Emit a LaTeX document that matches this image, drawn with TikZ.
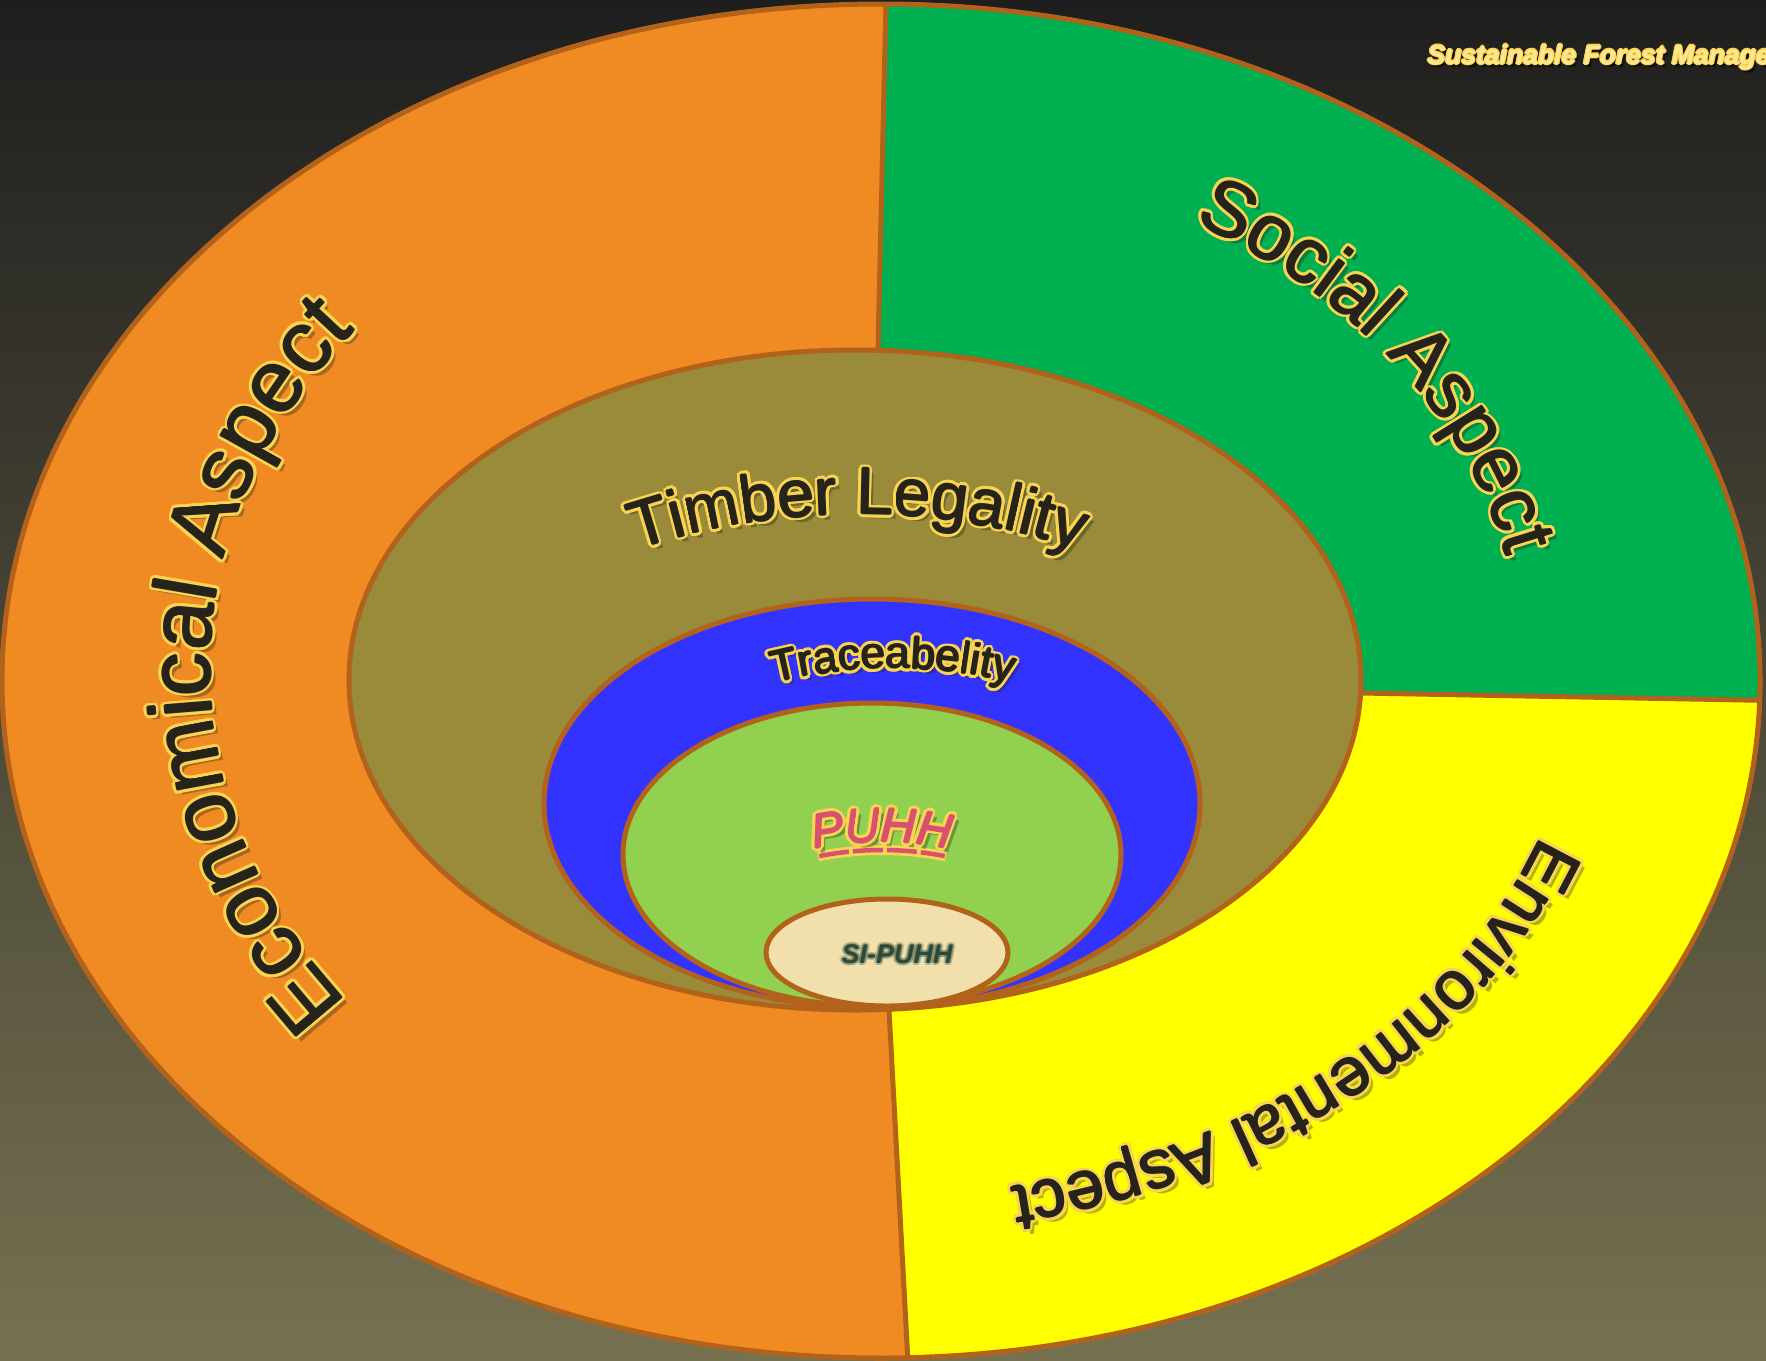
\documentclass[tikz,border=0pt]{standalone}
\usepackage{fontspec}
\setmainfont{Liberation Sans}
\usetikzlibrary{decorations.text}
\definecolor{bgtop}{HTML}{1E1E1E}
\definecolor{bgbot}{HTML}{767150}
\definecolor{orangeF}{HTML}{EF8B22}
\definecolor{greenF}{HTML}{00AF50}
\definecolor{yellowF}{HTML}{FFFF00}
\definecolor{timberF}{HTML}{9A8B3B}
\definecolor{blueF}{HTML}{3333FF}
\definecolor{lgreenF}{HTML}{92D050}
\definecolor{beigeF}{HTML}{F1E0AC}
\definecolor{bord}{HTML}{B2621A}
\definecolor{outl}{HTML}{F9D453}
\definecolor{txtc}{HTML}{26241A}
\definecolor{pinkF}{HTML}{D6526F}
\definecolor{siF}{HTML}{2C4A3A}
\definecolor{sfmF}{HTML}{FFD54F}
\definecolor{shadowc}{HTML}{202020}

% #1 path, #2 font, #3 fill colour, #4 text
\newcommand\arclabel[4]{%
  \begin{scope}[opacity=0.35]
    \path[decorate,decoration={text along path,text align=center,
      text={|#2\color{shadowc}|#4}},shift={(5,-5)}] #1;
  \end{scope}
  \foreach \ang in {0,24,...,336}{%
    \path[decorate,decoration={text along path,text align=center,
      text={|#2\color{outl}|#4}},shift={(\ang:3.6)}] #1;}
  \foreach \ang in {0,90,180,270}{%
    \path[decorate,decoration={text along path,text align=center,
      text={|#2\color{#3}|#4}},shift={(\ang:0.9)}] #1;}
  \path[decorate,decoration={text along path,text align=center,
    text={|#2\color{#3}|#4}}] #1;
}

\tikzset{
  bordline/.style={draw=bord,line width=5pt},
  ringpart/.style={draw=bord,line width=5pt},
  titlefont/.style={font=\bfseries\itshape\fontsize{26.5}{30}\selectfont},
}

\begin{document}
\begin{tikzpicture}[x=1pt,y=1pt]
\useasboundingbox (0,0) rectangle (1766,-1360);
\shade[top color=bgtop,bottom color=bgbot] (0,0) rectangle (1766,-1360);

% outer ring
\coordinate (O) at (881,-681);
\coordinate (t1) at (878,-350);
\coordinate (t2) at (886.5,20);
\coordinate (r1) at (1361,-693);
\coordinate (r2) at (1800,-701);
\coordinate (b1) at (889,-1010);
\coordinate (b2) at (910,-1400);
\fill[orangeF] (O) ellipse[x radius=881,y radius=679];
\begin{scope}
  \clip (O) ellipse[x radius=881,y radius=679];
  \fill[greenF] (t1) -- (t2) -- (1800,20) -- (r2) -- (r1) -- (878,-693) -- cycle;
  \fill[yellowF] (r1) -- (r2) -- (1800,-1400) -- (b2) -- (b1) -- (878,-693) -- cycle;
  \draw[bordline] (t1) -- (t2);
  \draw[bordline] (r1) -- (r2);
  \draw[bordline] (b1) -- (b2);
\end{scope}
\draw[ringpart] (O) ellipse[x radius=879,y radius=677];

% inner ellipses
\coordinate (cT) at (855,-680);
\coordinate (cB) at (872,-803.5);
\coordinate (cG) at (872,-854.5);
\coordinate (cS) at (887,-952.5);
\filldraw[ringpart,fill=timberF] (cT) ellipse[x radius=506,y radius=330];
\filldraw[ringpart,fill=blueF] (cB) ellipse[x radius=328,y radius=204.5];
\filldraw[ringpart,fill=lgreenF] (cG) ellipse[x radius=249,y radius=151.5];
\filldraw[ringpart,fill=beigeF] (cS) ellipse[x radius=121,y radius=53.5];

% ring labels
\arclabel{([shift={(242:664 and 545)}]874,-670) arc[start angle=242,end angle=117,x radius=664,y radius=545]}{\fontsize{88}{90}\selectfont}{txtc}{Economical Aspect}
\arclabel{([shift={(79.1:652 and 512)}]870,-667) arc[start angle=79.1,end angle=-10.9,x radius=652,y radius=512]}{\fontsize{78}{90}\selectfont}{txtc}{Social Aspect}
\arclabel{([shift={(-13.3:714 and 543)}]868,-655) arc[start angle=-13.3,end angle=-83.3,x radius=714,y radius=543]}{\fontsize{68}{80}\selectfont}{txtc}{Environmental Aspect}

% inner labels
\arclabel{([shift={(120:703)}]858,-1217) arc[start angle=120,end angle=60,radius=703]}{\fontsize{66}{70}\selectfont}{txtc}{Timber Legality}
\arclabel{([shift={(125:480)}]893,-1148) arc[start angle=125,end angle=55,radius=480]}{\fontsize{44}{50}\selectfont}{txtc}{Traceabelity}

% PUHH underline
\coordinate (uc) at (882,-1176);
\draw[outl,line width=10pt] ([shift={(101.3:326)}]uc) arc[start angle=101.3,end angle=78.7,radius=326];
\draw[pinkF,line width=4.5pt,dash pattern=on 30pt off 4pt] ([shift={(101.1:326)}]uc) arc[start angle=101.1,end angle=78.9,radius=326];
\arclabel{([shift={(120:334)}]882,-1176) arc[start angle=120,end angle=60,radius=334]}{\itshape\fontsize{48}{52}\selectfont}{pinkF}{PUHH}

% SI-PUHH
\foreach \ang in {0,60,...,300}{%
  \node[opacity=0.25,text=siF,font=\bfseries\itshape\fontsize{27}{30}\selectfont] at ([shift={(\ang:2.5)}]897,-954) {SI-PUHH};}
\node[text=siF,font=\bfseries\itshape\fontsize{27}{30}\selectfont] (sipuhh) at (897,-954) {SI-PUHH};

% title
\node[anchor=base west,opacity=0.5,text=black,titlefont] at (1427,-67) {Sustainable Forest Manage};
\foreach \ang in {0,45,...,315}{%
  \node[anchor=base west,text=sfmF,titlefont] at ([shift={(\ang:1.3)}]1424,-64) {Sustainable Forest Manage};}
\node[anchor=base west,text=sfmF!60!white,titlefont] (sfm) at (1424,-64) {Sustainable Forest Manage};
\end{tikzpicture}
\end{document}
